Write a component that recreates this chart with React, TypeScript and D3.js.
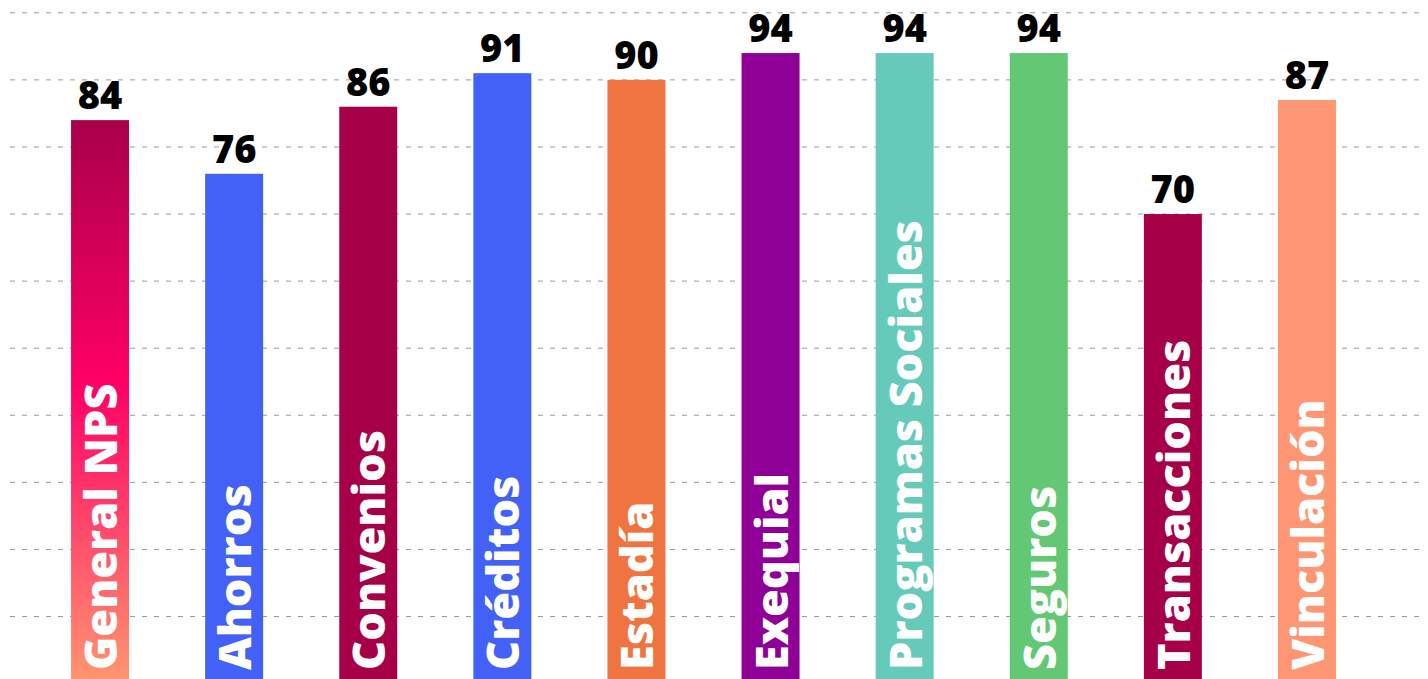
import React from "react";
import * as d3 from "d3";

const categories = [
  "General NPS",
  "Ahorros",
  "Convenios",
  "Créditos",
  "Estadía",
  "Exequial",
  "Programas Sociales",
  "Seguros",
  "Transacciones",
  "Vinculación",
];
const values = [84, 76, 86, 91, 90, 94, 94, 94, 70, 87];
const barColors = [
  "url(#npsGrad)",
  "#4361F6",
  "#A60048",
  "#4361F6",
  "#EF7440",
  "#8E0096",
  "#66CABB",
  "#63C873",
  "#A60048",
  "#FF9673",
];
const gridTicks = [10, 20, 30, 40, 50, 60, 70, 80, 90, 100];

const W = 1428;
const H = 679;
const FONT = "'Open Sans', 'Noto Sans', sans-serif";

export default function App() {
  const x = d3
    .scaleBand<string>()
    .domain(categories)
    .range([33, 1374])
    .paddingInner(0.5675)
    .paddingOuter(0.28375);
  const y = d3.scaleLinear().domain([0, 100]).range([683.6, 12.8]);

  return (
    <svg
      width={W}
      height={H}
      style={{ position: "absolute", left: 0, top: 0, background: "#fff" }}
    >
      <defs>
        <linearGradient id="npsGrad" x1="0" y1="0" x2="0" y2="1">
          <stop offset="0%" stopColor="#A8004A" />
          <stop offset="47%" stopColor="#FF0066" />
          <stop offset="100%" stopColor="#FF9670" />
        </linearGradient>
      </defs>
      <g>
        {gridTicks.map((t) => (
          <line
            key={t}
            x1={10}
            x2={1422}
            y1={y(t)}
            y2={y(t)}
            stroke="#9a9a9a"
            strokeWidth={1}
            strokeDasharray="5,7"
          />
        ))}
      </g>
      <g>
        {categories.map((c, i) => {
          const x0 = x(c) as number;
          const bw = x.bandwidth();
          const cx = x0 + bw / 2;
          return (
            <g key={c}>
              <rect
                x={x0}
                y={y(values[i])}
                width={bw}
                height={y(0) - y(values[i])}
                fill={barColors[i]}
              />
              <text
                x={cx}
                y={y(values[i]) - 11}
                textAnchor="middle"
                fontFamily={FONT}
                fontWeight={800}
                fontSize={38}
                fill="#000"
              >
                {values[i]}
              </text>
              <text
                transform={`translate(${cx + 17},${670}) rotate(-90)`}
                textAnchor="start"
                fontFamily={FONT}
                fontWeight={800}
                fontSize={45}
                fill="#fff"
              >
                {c}
              </text>
            </g>
          );
        })}
      </g>
    </svg>
  );
}
